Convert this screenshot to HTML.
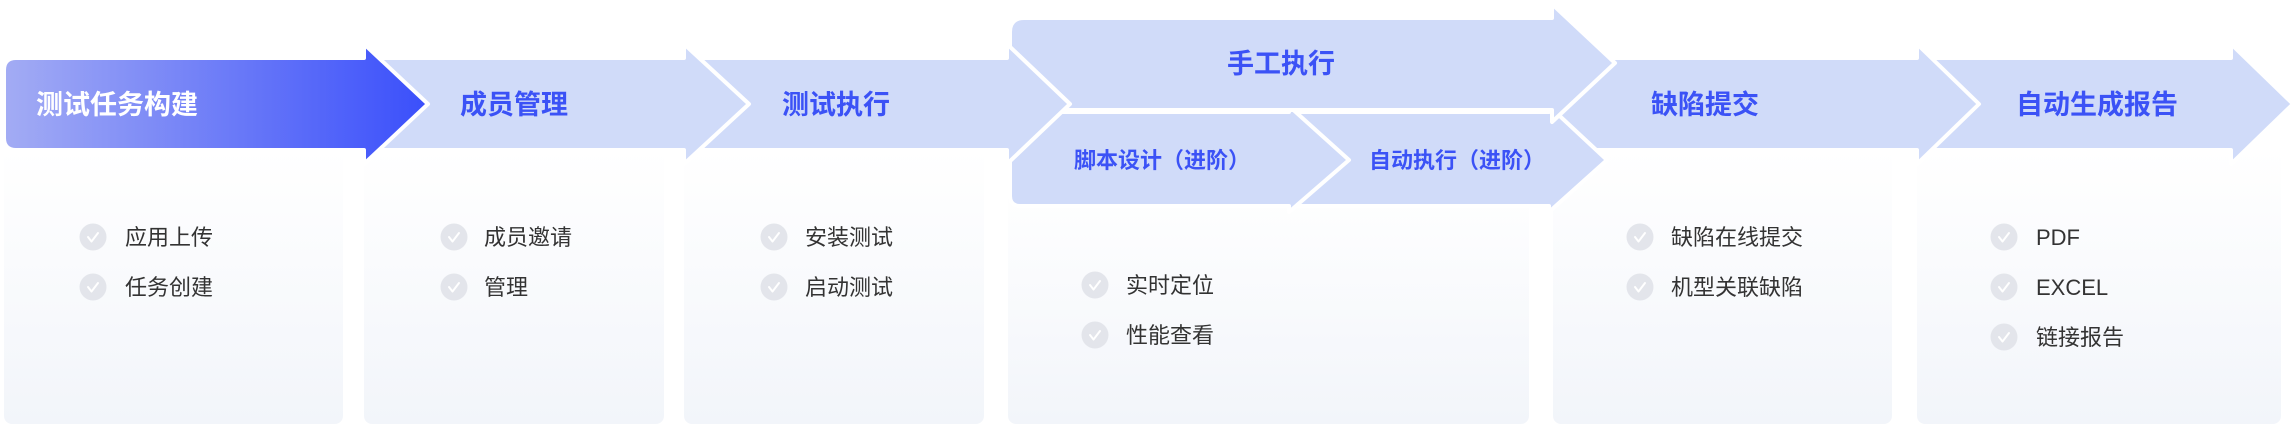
<!DOCTYPE html>
<html><head><meta charset="utf-8"><style>
html,body{margin:0;padding:0;background:#fff;}
svg{display:block;}
text{font-family:"Liberation Sans","Noto Sans CJK SC",sans-serif;}
.t{font-size:27px;font-weight:700;fill:#3b52f6;}
.s{font-size:22px;font-weight:700;fill:#3b52f6;}
.i{font-size:22px;fill:#333;}
</style></head><body>
<svg width="2295" height="424" viewBox="0 0 2295 424" xmlns="http://www.w3.org/2000/svg">
<defs>
<linearGradient id="g1" x1="0" x2="1" y1="0" y2="0"><stop offset="0" stop-color="#a3acf4"/><stop offset="1" stop-color="#3a4ffb"/></linearGradient>
<linearGradient id="cg" x1="0" x2="0" y1="0" y2="1"><stop offset="0" stop-color="#ffffff"/><stop offset="1" stop-color="#f2f5fa"/></linearGradient>
<g id="ck"><circle r="13.5" fill="#e3e5eb"/><path d="M-5,0 L-1.5,4.5 L5,-4" fill="none" stroke="#fff" stroke-width="2" stroke-linecap="round" stroke-linejoin="round"/></g>
</defs>
<!-- cards -->
<rect x="4" y="150" width="339" height="274" rx="8" fill="url(#cg)"/>
<rect x="364" y="150" width="300" height="274" rx="8" fill="url(#cg)"/>
<rect x="684" y="150" width="300" height="274" rx="8" fill="url(#cg)"/>
<rect x="1008" y="180" width="521" height="244" rx="8" fill="url(#cg)"/>
<rect x="1553" y="150" width="339" height="274" rx="8" fill="url(#cg)"/>
<rect x="1917" y="150" width="364" height="274" rx="8" fill="url(#cg)"/>
<g fill="#d0dbf9" stroke="#fff" stroke-width="4" stroke-linejoin="round">
<!-- auto report -->
<path d="M1930,58 H2231 V44 L2293,104 L2231,164 V150 H1930 Z"/>
<!-- defect -->
<path d="M1550,58 H1917 V44 L1979,104 L1917,164 V150 H1550 Z"/>
<!-- sub 2 -->
<path d="M1280,112 H1549 V106 L1607,160 L1549,212 V206 H1280 Z"/>
<!-- sub 1 -->
<path d="M1020,112 H1289 V106 L1349,160 L1289,212 V206 H1020 Q1010,206 1010,196 V122 Q1010,112 1020,112 Z"/>
<!-- top block -->
<path d="M1024,18 H1552 V4 L1615,63 L1552,122 V110 H1010 V32 Q1010,18 1024,18 Z"/>
<!-- main 3 -->
<path d="M680,58 H1007 V44 L1070,104 L1007,164 V150 H680 Z"/>
<!-- main 2 -->
<path d="M360,58 H684 V44 L749,104 L684,164 V150 H360 Z"/>
</g>
<path d="M16,58 H364 V44 L428,104 L364,164 V150 H16 Q4,150 4,138 V70 Q4,58 16,58 Z" fill="url(#g1)" stroke="#fff" stroke-width="4" stroke-linejoin="round"/>
<rect x="2" y="56" width="4" height="96" fill="none"/>
<!-- titles -->
<text x="36" y="114" font-size="27" font-weight="700" fill="#fff">测试任务构建</text>
<text class="t" x="460" y="114">成员管理</text>
<text class="t" x="782" y="114">测试执行</text>
<text class="t" x="1227" y="73">手工执行</text>
<text class="s" x="1074" y="168">脚本设计（进阶）</text>
<text class="s" x="1369" y="168">自动执行（进阶）</text>
<text class="t" x="1651" y="114">缺陷提交</text>
<text class="t" x="2016" y="114">自动生成报告</text>
<!-- items -->
<use href="#ck" x="93" y="237"/><text class="i" x="125" y="245">应用上传</text>
<use href="#ck" x="93" y="287"/><text class="i" x="125" y="295">任务创建</text>
<use href="#ck" x="454" y="237"/><text class="i" x="484" y="245">成员邀请</text>
<use href="#ck" x="454" y="287"/><text class="i" x="484" y="295">管理</text>
<use href="#ck" x="774" y="237"/><text class="i" x="805" y="245">安装测试</text>
<use href="#ck" x="774" y="287"/><text class="i" x="805" y="295">启动测试</text>
<use href="#ck" x="1095" y="285"/><text class="i" x="1126" y="293">实时定位</text>
<use href="#ck" x="1095" y="335"/><text class="i" x="1126" y="343">性能查看</text>
<use href="#ck" x="1640" y="237"/><text class="i" x="1671" y="245">缺陷在线提交</text>
<use href="#ck" x="1640" y="287"/><text class="i" x="1671" y="295">机型关联缺陷</text>
<use href="#ck" x="2004" y="237"/><text class="i" x="2036" y="245">PDF</text>
<use href="#ck" x="2004" y="287"/><text class="i" x="2036" y="295">EXCEL</text>
<use href="#ck" x="2004" y="337"/><text class="i" x="2036" y="345">链接报告</text>
</svg>
</body></html>
